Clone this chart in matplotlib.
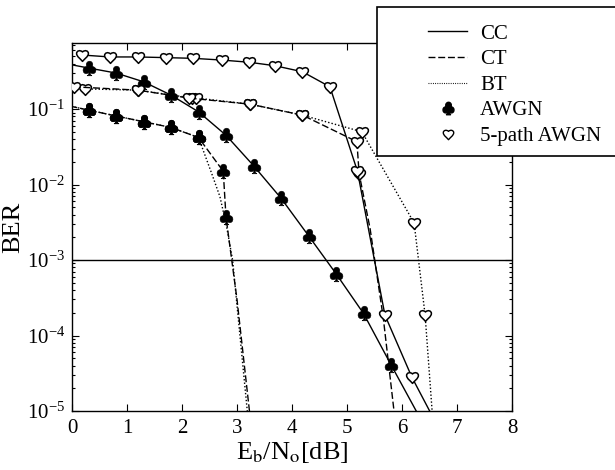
import matplotlib
matplotlib.use("Agg")
import matplotlib.pyplot as plt
from matplotlib.path import Path
from matplotlib.lines import Line2D
from matplotlib.patches import Rectangle
from matplotlib.legend_handler import HandlerLine2D
import numpy as np

plt.rcParams['font.family'] = ['Liberation Serif', 'DejaVu Serif']
plt.rcParams['mathtext.fontset'] = 'stix'

# ---------------- data ----------------
# AWGN channel
x_cc_awgn = [-0.2, 0.3, 0.8, 1.3, 1.8, 2.3, 2.8, 3.3, 3.8, 4.3, 4.8, 5.3, 5.8, 6.3]
ber_cc_awgn = [0.41, 0.35, 0.30, 0.23, 0.153, 0.092, 0.045, 0.0178, 0.0066,
               0.0021, 6.6e-4, 1.96e-4, 4.1e-5, 8.8e-6]

x_ct_awgn = [-0.2, 0.3, 0.8, 1.3, 1.8, 2.3, 2.75, 2.8, 3.0, 3.25]
ber_ct_awgn = [0.116, 0.097, 0.081, 0.068, 0.057, 0.042, 0.015, 0.0037, 3e-4, 7e-6]

x_bt_awgn = [-0.2, 0.3, 0.8, 1.3, 1.8, 2.3, 2.54, 2.69, 2.81, 2.92, 3.2]
ber_bt_awgn = [0.116, 0.097, 0.081, 0.068, 0.057, 0.042, 0.014, 0.0069, 0.0028, 0.001, 8e-6]

# 5-path AWGN channel
x_cc_5p = [0.18, 0.69, 1.2, 1.71, 2.2, 2.72, 3.22, 3.69, 4.19, 4.69, 5.19, 5.69, 6.18, 6.69]
ber_cc_5p = [0.52, 0.49, 0.49, 0.48, 0.47, 0.446, 0.417, 0.375, 0.312, 0.197,
             0.015, 1.86e-4, 2.8e-5, 5.5e-6]

x_ct_5p = [0.03, 1.2, 2.12, 3.24, 4.19, 5.18, 5.22, 5.42, 5.66, 5.87]
ber_ct_5p = [0.197, 0.178, 0.14, 0.116, 0.083, 0.037, 0.014, 2.6e-3, 1.7e-4, 8e-6]

x_bt_5p = [0.23, 1.2, 2.18, 2.26, 3.24, 4.19, 5.27, 6.22, 6.42, 6.6]
ber_bt_5p = [0.185, 0.178, 0.14, 0.14, 0.116, 0.083, 0.05, 0.0031, 1.87e-4, 3e-6]

ber_target = 1e-3
x_ticks = [0, 1, 2, 3, 4, 5, 6, 7, 8]
legend_labels = ['CC', 'CT', 'BT', 'AWGN', '5-path AWGN']

# ---------------- markers ----------------
heart = Path(
    [(0, -1), (-0.3, -0.6), (-1, -0.2), (-1, 0.35),
     (-1, 0.8), (-0.4, 1.0), (0, 0.6),
     (0.4, 1.0), (1, 0.8), (1, 0.35),
     (1, -0.2), (0.3, -0.6), (0, -1), (0, -1)],
    [Path.MOVETO, Path.CURVE4, Path.CURVE4, Path.CURVE4,
     Path.CURVE4, Path.CURVE4, Path.CURVE4,
     Path.CURVE4, Path.CURVE4, Path.CURVE4,
     Path.CURVE4, Path.CURVE4, Path.CURVE4, Path.CLOSEPOLY])
club = r'$\clubsuit$'

solid = '-'
dashed = (0, (5, 2))
dotted = (0, (1, 1.5))
lw = 1.0

club_kw = dict(marker=club, markersize=10.5, markerfacecolor='black',
               markeredgecolor='black', markeredgewidth=0.4)
heart_kw = dict(marker=heart, markersize=8.5, markerfacecolor='white',
                markeredgecolor='black', markeredgewidth=1.1)

fig = plt.figure(figsize=(6.15, 4.70), dpi=100)
ax = fig.add_axes([72 / 615, 1 - 411 / 470, 440 / 615, 368 / 470])

ax.axhline(ber_target, color='black', lw=1.0, zorder=1)

ax.plot(x_bt_awgn, ber_bt_awgn, color='black', ls=dotted, lw=lw,
        markevery=[0, 1, 2, 3, 4, 5], **club_kw, zorder=2)
ax.plot(x_ct_awgn, ber_ct_awgn, color='black', ls=dashed, lw=lw,
        markevery=[0, 1, 2, 3, 4, 5, 6, 7], **club_kw, zorder=3)
ax.plot(x_cc_awgn, ber_cc_awgn, color='black', ls=solid, lw=lw,
        markevery=list(range(len(x_cc_awgn) - 1)), **club_kw, zorder=3)

ax.plot(x_bt_5p, ber_bt_5p, color='black', ls=dotted, lw=lw,
        markevery=list(range(len(x_bt_5p) - 1)), **heart_kw, zorder=2)
ax.plot(x_ct_5p, ber_ct_5p, color='black', ls=dashed, lw=lw,
        markevery=[0, 1, 2, 3, 4, 5, 6], **heart_kw, zorder=3)
ax.plot(x_cc_5p, ber_cc_5p, color='black', ls=solid, lw=lw,
        markevery=list(range(len(x_cc_5p) - 1)), **heart_kw, zorder=4)

ax.set_yscale('log')
ax.set_xlim(0, 8)
ax.set_ylim(1e-5, 0.75)
ax.set_xticks(x_ticks)
ax.set_xticklabels([str(t) for t in x_ticks])
ax.tick_params(which='both', direction='in', top=True, right=True,
               labelsize=15, width=0.8)
ax.tick_params(which='major', length=5)
ax.tick_params(which='minor', length=2.5)
ax.tick_params(axis='x', pad=6)
ax.tick_params(axis='y', pad=5)
for s in ax.spines.values():
    s.set_linewidth(1.0)

ax.set_xlabel(r'E$_\mathrm{b}$/N$_\mathrm{o}$[dB]', fontsize=19, labelpad=1)
ax.set_ylabel('BER', fontsize=19, labelpad=2)

# ---------------- legend ----------------
fig.patches.append(Rectangle((377 / 615, 1 - 156 / 470), 0.5, 149 / 470,
                             transform=fig.transFigure, facecolor='white',
                             edgecolor='black', lw=1.2, zorder=5))


class LeftMarker(HandlerLine2D):
    def get_xdata(self, legend, xdescent, ydescent, width, height, fontsize):
        xdata, _ = super().get_xdata(legend, xdescent, ydescent, width, height, fontsize)
        return xdata, [-xdescent + 0.12 * width]


h_cc = Line2D([], [], color='black', ls=solid, lw=lw)
h_ct = Line2D([], [], color='black', ls=(0, (5, 2)), lw=lw)
h_bt = Line2D([], [], color='black', ls=(0, (0.8, 1.2)), lw=0.8)
h_aw = Line2D([], [], ls='none', marker=club, markersize=9, color='black')
h_5p = Line2D([], [], ls='none', marker=heart, markersize=7.5,
              markerfacecolor='white', markeredgecolor='black', markeredgewidth=1.0)
leg = fig.legend([h_cc, h_ct, h_bt, h_aw, h_5p], legend_labels,
                 loc='upper left', bbox_to_anchor=(428 / 615, 1 - 24 / 470),
                 frameon=False, fontsize=15, borderpad=0, borderaxespad=0,
                 handlelength=1.88, handletextpad=0.63, labelspacing=0.29,
                 handler_map={h_aw: LeftMarker(), h_5p: LeftMarker()})
leg.set_zorder(6)

fig.savefig('out.png', dpi=100)
